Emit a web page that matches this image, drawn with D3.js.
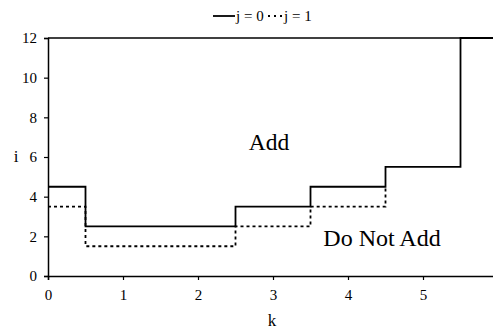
<!DOCTYPE html>
<html><head><meta charset="utf-8">
<script src="https://cdn.jsdelivr.net/npm/d3@7"></script>
<style>body{margin:0;background:#fff}svg{display:block}</style>
</head><body>
<svg id="c" width="493" height="329"></svg>
<script>
const kBreaks0 = [0, 0.5, 2.5, 3.5, 4.5, 5.5, 6];
const j0 = [4.5, 2.5, 3.5, 4.5, 5.5, 12, 12];
const kBreaks1 = [0, 0.5, 2.5, 3.5, 4.5];
const j1 = [3.5, 1.5, 2.5, 3.5, 4.5];
const xTicks = [0, 1, 2, 3, 4, 5, 6];
const yTicks = [0, 2, 4, 6, 8, 10, 12];
const seriesNames = ["j = 0", "j = 1"];

const FONT = '"Liberation Serif", "Times New Roman", Times, "DejaVu Serif", serif';
const svg = d3.select("#c");
const x = d3.scaleLinear().domain([0, 6]).range([48, 498]);
const y = d3.scaleLinear().domain([0, 12]).range([276, 38]);

const line = d3.line().x(d=>x(d[0])).y(d=>y(d[1])).curve(d3.curveStepAfter);

svg.append("line").attr("x1",x(0)).attr("x2",x(6)).attr("y1",y(12)).attr("y2",y(12)).attr("stroke","#000").attr("stroke-width",1.5);

svg.append("path").attr("d", line(kBreaks1.map((k,i)=>[k,j1[i]]))).attr("fill","none").attr("stroke","#000").attr("stroke-width",1.8).attr("stroke-dasharray","3,3");
svg.append("path").attr("d", line(kBreaks0.map((k,i)=>[k,j0[i]]))).attr("fill","none").attr("stroke","#000").attr("stroke-width",1.8);

const xa = svg.append("g").attr("transform",`translate(0,${y(0)})`)
  .call(d3.axisBottom(x).tickValues(xTicks).tickSize(4).tickPadding(9).tickFormat(d3.format("d")));
const ya = svg.append("g").attr("transform",`translate(${x(0)},0)`)
  .call(d3.axisLeft(y).tickValues(yTicks).tickSize(4).tickPadding(7).tickFormat(d3.format("d")));
[xa,ya].forEach(a=>{
  a.attr("font-family", FONT).attr("font-size", 15);
  a.select(".domain").attr("stroke","#000").attr("stroke-width",1.5);
  a.selectAll(".tick line").attr("stroke","#000").attr("stroke-width",1.2);
  a.selectAll("text").style("font-family", FONT).attr("font-size",15).attr("fill","#000");
});

function txt(xp, yp, s, size, anchor){
  return svg.append("text").attr("x",xp).attr("y",yp).attr("text-anchor",anchor||"start")
    .style("font-family",FONT).attr("font-size",size).attr("fill","#000").text(s);
}
txt(16, y(6)+5, "i", 17, "middle");
txt(272, 326, "k", 17, "middle");
txt(269, 150, "Add", 23.5, "middle");
txt(382, 246, "Do Not Add", 24, "middle");

svg.append("line").attr("x1",213).attr("x2",235).attr("y1",16).attr("y2",16).attr("stroke","#000").attr("stroke-width",1.8);
txt(236, 21, seriesNames[0], 15);
svg.append("line").attr("x1",268).attr("x2",282).attr("y1",16).attr("y2",16).attr("stroke","#000").attr("stroke-width",1.8).attr("stroke-dasharray","2,4");
txt(284, 21, seriesNames[1], 15);
</script>
</body></html>
